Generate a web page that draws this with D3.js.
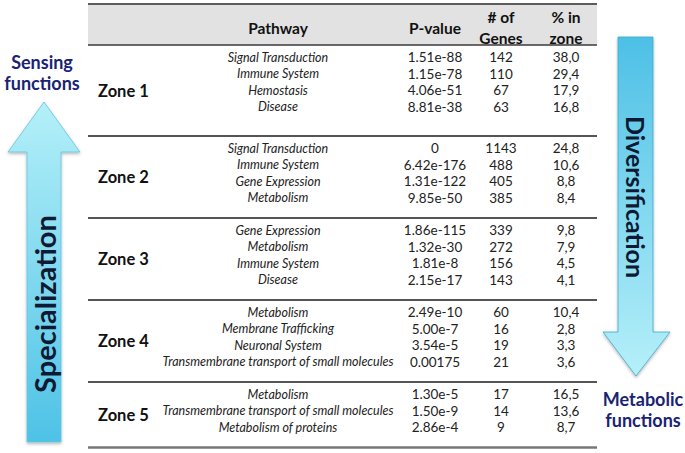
<!DOCTYPE html>
<html>
<head>
<meta charset="utf-8">
<script src="https://cdn.jsdelivr.net/npm/d3@7"></script>
<style>
  body { margin: 0; background: #fff; }
  svg { display: block; font-family: Lato, "Open Sans", sans-serif; }
</style>
</head>
<body>
<svg id="chart" width="685" height="453"></svg>
<script>
// ---- data ----
const zoneNames = ['Zone 1', 'Zone 2', 'Zone 3', 'Zone 4', 'Zone 5'];
const rowZone = [0, 0, 0, 0, 1, 1, 1, 1, 2, 2, 2, 2, 3, 3, 3, 3, 4, 4, 4];
const pathways = [
  'Signal Transduction', 'Immune System', 'Hemostasis', 'Disease',
  'Signal Transduction', 'Immune System', 'Gene Expression', 'Metabolism',
  'Gene Expression', 'Metabolism', 'Immune System', 'Disease',
  'Metabolism', 'Membrane Trafficking', 'Neuronal System', 'Transmembrane transport of small molecules',
  'Metabolism', 'Transmembrane transport of small molecules', 'Metabolism of proteins'
];
const pValues = [
  '1.51e-88', '1.15e-78', '4.06e-51', '8.81e-38',
  '0', '6.42e-176', '1.31e-122', '9.85e-50',
  '1.86e-115', '1.32e-30', '1.81e-8', '2.15e-17',
  '2.49e-10', '5.00e-7', '3.54e-5', '0.00175',
  '1.30e-5', '1.50e-9', '2.86e-4'
];
const geneCounts = [142, 110, 67, 63, 1143, 488, 405, 385, 339, 272, 156, 143, 60, 16, 19, 21, 17, 14, 9];
const pctInZone = [38.0, 29.4, 17.9, 16.8, 24.8, 10.6, 8.8, 8.4, 9.8, 7.9, 4.5, 4.1, 10.4, 2.8, 3.3, 3.6, 16.5, 13.6, 8.7];
const headers = [['Pathway'], ['P-value'], ['# of', 'Genes'], ['% in', 'zone']];
const columns = ['pathway', 'pvalue', 'genes', 'pct'];

// ---- layout ----
const svg = d3.select('#chart');
const table = {left: 88, right: 597, top: 4, headBottom: 45};
const rowStep = 16.5, zonePad = 16, firstExtra = 9;

const x = d3.scaleOrdinal().domain(columns).range([278, 435, 501, 566]);

const zoneCounts = zoneNames.map((z, i) => rowZone.filter(r => r === i).length);
const zoneTop = [], zoneBottom = [];
let cursor = table.headBottom;
zoneCounts.forEach((n, i) => {
  zoneTop.push(cursor);
  cursor += n * rowStep + zonePad + (i === 0 ? firstExtra : 0);
  zoneBottom.push(cursor);
});
const rowIndexInZone = rowZone.map((z, i) => i - rowZone.indexOf(z));
const rowY = i => zoneTop[rowZone[i]] + 12 + rowIndexInZone[i] * rowStep;

const pctFmt = v => d3.format('.1f')(v).replace('.', ',');

// ---- defs ----
const defs = svg.append('defs');
function gradient(id, top, bottom) {
  const g = defs.append('linearGradient').attr('id', id)
    .attr('x1', 0).attr('y1', 0).attr('x2', 0).attr('y2', 1);
  g.append('stop').attr('offset', '0%').attr('stop-color', top);
  g.append('stop').attr('offset', '100%').attr('stop-color', bottom);
}
gradient('gradUp', '#b4f0f9', '#4ec2e6');
gradient('gradDown', '#4dc0e6', '#b6f0f9');
defs.append('filter').attr('id', 'shadow').attr('x', '-20%').attr('y', '-10%').attr('width', '140%').attr('height', '120%')
  .append('feDropShadow').attr('dx', 0).attr('dy', 1.5).attr('stdDeviation', 1.5)
  .attr('flood-color', '#000').attr('flood-opacity', 0.3);

// ---- table ----
svg.append('rect')
  .attr('x', table.left).attr('y', table.top)
  .attr('width', table.right - table.left).attr('height', table.headBottom - table.top)
  .attr('fill', '#e2e2e2');

svg.append('g').selectAll('text')
  .data(headers)
  .join('text')
  .attr('x', (d, i) => x(columns[i]))
  .attr('text-anchor', 'middle')
  .attr('font-weight', 'bold')
  .attr('font-size', 15.5)
  .attr('fill', '#111')
  .each(function(d) {
    const t = d3.select(this);
    const start = d.length === 1 ? 28 : 17;
    d.forEach((line, k) => t.append('tspan')
      .attr('x', t.attr('x')).attr('y', start + k * 20.5)
      .attr('dominant-baseline', 'central').text(line));
  });

// horizontal rules
svg.append('line').attr('x1', table.left).attr('x2', table.right)
  .attr('y1', table.top).attr('y2', table.top)
  .attr('stroke', '#5c5c5c').attr('stroke-width', 2);
svg.append('line').attr('x1', table.left).attr('x2', table.right)
  .attr('y1', table.headBottom).attr('y2', table.headBottom)
  .attr('stroke', '#3a3a3a').attr('stroke-width', 1.5);
svg.append('g').selectAll('line')
  .data(zoneBottom)
  .join('line')
  .attr('x1', table.left).attr('x2', table.right)
  .attr('y1', d => d).attr('y2', d => d)
  .attr('stroke', (d, i) => i === zoneBottom.length - 1 ? '#777' : '#555')
  .attr('stroke-width', (d, i) => i === zoneBottom.length - 1 ? 2.5 : 1.8);

// zone labels
svg.append('g').selectAll('text')
  .data(zoneNames)
  .join('text')
  .attr('x', 98)
  .attr('y', (d, i) => (zoneTop[i] + zoneBottom[i]) / 2)
  .attr('dominant-baseline', 'central')
  .attr('font-weight', 'bold')
  .attr('font-size', 16.5)
  .attr('fill', '#111')
  .text(d => d);

// table cells
const rows = svg.append('g').selectAll('g')
  .data(pathways.map((p, i) => ({pathway: p, pvalue: pValues[i], genes: geneCounts[i], pct: pctFmt(pctInZone[i]), i})))
  .join('g')
  .attr('transform', d => 'translate(0,' + rowY(d.i) + ')');

columns.forEach(col => {
  rows.append('text')
    .attr('x', x(col))
    .attr('text-anchor', 'middle')
    .attr('dominant-baseline', 'central')
    .attr('font-size', col === 'pathway' ? 12.5 : 13.5)
    .attr('font-style', col === 'pathway' ? 'italic' : 'normal')
    .attr('fill', '#222')
    .text(d => d[col]);
});

// ---- arrows ----
const up = svg.append('g');
up.append('path')
  .attr('d', d3.line()([[27, 442], [27, 152], [8, 152], [44, 102], [80, 152], [61, 152], [61, 442]]) + 'Z')
  .attr('fill', 'url(#gradUp)')
  .attr('stroke', '#62c3df').attr('stroke-width', 0.8)
  .attr('filter', 'url(#shadow)');
up.append('text')
  .attr('transform', 'translate(44,304) rotate(-90)')
  .attr('text-anchor', 'middle').attr('dominant-baseline', 'central')
  .attr('font-weight', 'bold').attr('font-size', 29).attr('fill', '#0e1a33')
  .text('Specialization');

const down = svg.append('g');
down.append('path')
  .attr('d', d3.line()([[618, 37], [653, 37], [653, 332], [670, 332], [636, 376], [603, 332], [618, 332]]) + 'Z')
  .attr('fill', 'url(#gradDown)')
  .attr('stroke', '#3fa7cc').attr('stroke-width', 0.8)
  .attr('filter', 'url(#shadow)');
down.append('text')
  .attr('transform', 'translate(636,197) rotate(90)')
  .attr('text-anchor', 'middle').attr('dominant-baseline', 'central')
  .attr('font-weight', 'bold').attr('font-size', 25).attr('fill', '#0e1a33')
  .text('Diversification');

// side captions
function caption(lines, cx, y0) {
  svg.append('g').selectAll('text')
    .data(lines)
    .join('text')
    .attr('x', cx).attr('y', (d, i) => y0 + i * 20.5)
    .attr('text-anchor', 'middle').attr('dominant-baseline', 'central')
    .attr('font-weight', 'bold').attr('font-size', 18).attr('fill', '#1a2373')
    .text(d => d);
}
caption(['Sensing', 'functions'], 42, 62);
caption(['Metabolic', 'functions'], 643, 399);
</script>
</body>
</html>
